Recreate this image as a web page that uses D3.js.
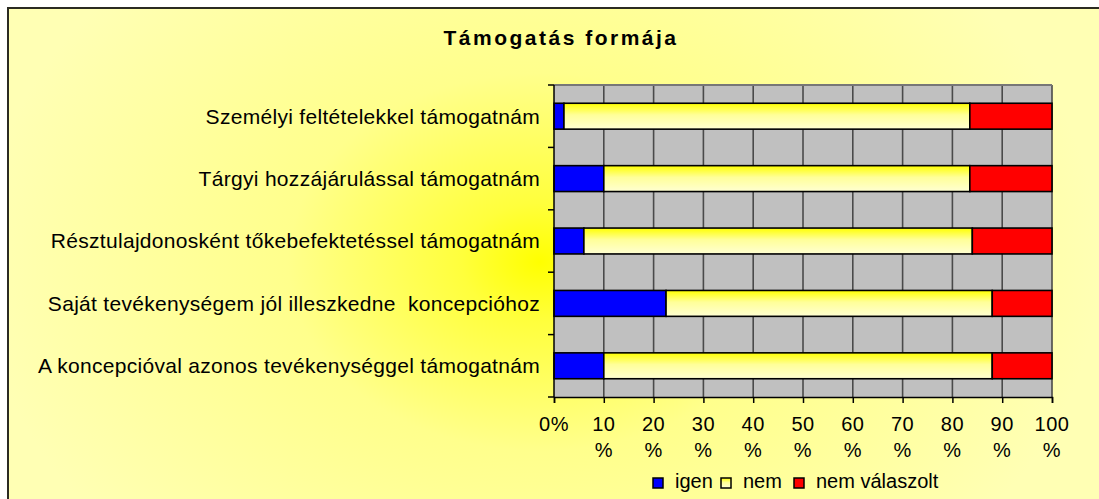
<!DOCTYPE html>
<html>
<head>
<meta charset="utf-8">
<script src="https://cdn.jsdelivr.net/npm/d3@7"></script>
<style>
  body { margin: 0; background: #ffffff; }
  text { font-family: "Liberation Sans", Arial, sans-serif; fill: #000; }
</style>
</head>
<body>
<div id="chart"></div>
<script>

// Chart data
var categories = [
    "Személyi feltételekkel támogatnám",
    "Tárgyi hozzájárulással támogatnám",
    "Résztulajdonosként tőkebefektetéssel támogatnám",
    "Saját tevékenységem jól illeszkedne  koncepcióhoz",
    "A koncepcióval azonos tevékenységgel támogatnám"
];
var seriesNames = ["igen", "nem", "nem válaszolt"];
var igen = [2, 10, 6, 22.5, 10];
var nem = [81.5, 73.5, 78, 65.5, 78];
var nemValaszolt = [16.5, 16.5, 16, 12, 12];
var tickValues = [0, 10, 20, 30, 40, 50, 60, 70, 80, 90, 100];

// Set up chart
var svgWidth = 1099;
var svgHeight = 499;

var margin = {
    top: 85,
    right: 47,
    bottom: 102,
    left: 554
};

var width = svgWidth - margin.left - margin.right;
var height = svgHeight - margin.top - margin.bottom;

var svg = d3.select("#chart")
    .append("svg")
    .attr("width", svgWidth)
    .attr("height", svgHeight);

var defs = svg.append("defs");

// background glow
var bgGrad = defs.append("radialGradient")
    .attr("id", "bgGrad")
    .attr("gradientUnits", "userSpaceOnUse")
    .attr("cx", 540).attr("cy", 262).attr("r", 560)
    .attr("gradientTransform", "translate(540,262) scale(1,0.75) translate(-540,-262)");
bgGrad.append("stop").attr("offset", "0").attr("stop-color", "#ffff00");
bgGrad.append("stop").attr("offset", "0.14").attr("stop-color", "#ffff3c");
bgGrad.append("stop").attr("offset", "0.45").attr("stop-color", "#ffff8c");
bgGrad.append("stop").attr("offset", "1").attr("stop-color", "#ffffb4");

// bar fill for "nem"
var barGrad = defs.append("linearGradient")
    .attr("id", "barGrad")
    .attr("x1", 0).attr("y1", 0).attr("x2", 0).attr("y2", 1);
barGrad.append("stop").attr("offset", "0").attr("stop-color", "#ffff00");
barGrad.append("stop").attr("offset", "0.45").attr("stop-color", "#ffff99");
barGrad.append("stop").attr("offset", "1").attr("stop-color", "#ffffd2");

var colors = ["#0000ff", "url(#barGrad)", "#ff0000"];

// chart area with border
svg.append("rect")
    .attr("x", 8)
    .attr("y", 8)
    .attr("width", 1120)
    .attr("height", 520)
    .attr("fill", "url(#bgGrad)")
    .attr("stroke", "#2b2b22")
    .attr("stroke-width", 2);

// Title
svg.append("text")
    .attr("x", 561)
    .attr("y", 45)
    .attr("text-anchor", "middle")
    .attr("font-size", "21px")
    .attr("font-weight", "bold")
    .attr("letter-spacing", "2.5px")
    .text("Támogatás formája");

var chartGroup = svg.append("g")
    .attr("transform", `translate(${margin.left}, ${margin.top})`);

// Build table for stacking
var table = categories.map(function(c, i) {
    return { cat: c, "igen": igen[i], "nem": nem[i], "nem válaszolt": nemValaszolt[i] };
});
var stacked = d3.stack().keys(seriesNames)(table);

// Scales
var xScale = d3.scaleLinear()
    .domain([0, 100])
    .range([0, width]);

var yScale = d3.scaleBand()
    .domain(categories)
    .range([0, height])
    .paddingInner(0.585)
    .paddingOuter(0.2925);

var yBounds = d3.scaleLinear()
    .domain([0, categories.length])
    .range([0, height]);

// plot background
chartGroup.append("rect")
    .attr("width", width)
    .attr("height", height)
    .attr("fill", "#c0c0c0");

// vertical gridlines
chartGroup.selectAll(".grid")
    .data(tickValues.slice(1))
    .enter()
    .append("line")
    .attr("x1", d => xScale(d))
    .attr("x2", d => xScale(d))
    .attr("y1", 0)
    .attr("y2", height)
    .attr("stroke", "#4a4a4a")
    .attr("stroke-width", 1.6);

// top border
chartGroup.append("line")
    .attr("x1", 0).attr("x2", width)
    .attr("y1", 0).attr("y2", 0)
    .attr("stroke", "#777777")
    .attr("stroke-width", 2);

// bars
chartGroup.selectAll(".series")
    .data(stacked)
    .enter()
    .append("g")
    .attr("fill", (d, i) => colors[i])
    .selectAll("rect")
    .data(d => d)
    .enter()
    .append("rect")
    .attr("x", d => xScale(d[0]))
    .attr("y", d => yScale(d.data.cat))
    .attr("width", d => xScale(d[1]) - xScale(d[0]))
    .attr("height", yScale.bandwidth())
    .attr("stroke", "#000")
    .attr("stroke-width", 1.6);

// left axis
chartGroup.append("line")
    .attr("x1", 0).attr("x2", 0)
    .attr("y1", 0).attr("y2", height)
    .attr("stroke", "#000")
    .attr("stroke-width", 1.5);

chartGroup.selectAll(".ytick")
    .data(d3.range(categories.length + 1))
    .enter()
    .append("line")
    .attr("x1", -6).attr("x2", 0)
    .attr("y1", d => yBounds(d))
    .attr("y2", d => yBounds(d))
    .attr("stroke", "#000")
    .attr("stroke-width", 1.5);

chartGroup.selectAll(".ylabel")
    .data(categories)
    .enter()
    .append("text")
    .attr("x", -14)
    .attr("y", d => yScale(d) + yScale.bandwidth() / 2)
    .attr("dy", "0.35em")
    .attr("text-anchor", "end")
    .attr("font-size", "21px")
    .attr("letter-spacing", "0.3px")
    .style("white-space", "pre")
    .text(d => d);

// bottom axis
var bottomAxis = d3.axisBottom(xScale)
    .tickValues(tickValues)
    .tickSize(6)
    .tickFormat("");

var xAxisGroup = chartGroup.append("g")
    .attr("transform", `translate(0, ${height})`)
    .call(bottomAxis);
xAxisGroup.select(".domain").attr("stroke", "#000").attr("stroke-width", 1.5);
xAxisGroup.selectAll(".tick line").attr("stroke", "#000").attr("stroke-width", 1.5);

// tick labels wrap onto two lines
var tickLabels = chartGroup.selectAll(".xlabel")
    .data(tickValues)
    .enter()
    .append("text")
    .attr("x", d => xScale(d))
    .attr("y", height + 34)
    .attr("text-anchor", "middle")
    .attr("font-size", "20px")
    .attr("letter-spacing", "0.5px");
tickLabels.each(function(d) {
    var t = d3.select(this);
    if (d === 0) {
        t.text("0%");
    } else {
        t.append("tspan").attr("x", xScale(d)).text(d);
        t.append("tspan").attr("x", xScale(d)).attr("dy", 26).text("%");
    }
});

// legend
var legendItems = [
    { name: seriesNames[0], color: colors[0], x: 653 },
    { name: seriesNames[1], color: colors[1], x: 721 },
    { name: seriesNames[2], color: colors[2], x: 794 }
];
var legend = svg.selectAll(".legend")
    .data(legendItems)
    .enter()
    .append("g")
    .attr("transform", d => `translate(${d.x}, 478)`);
legend.append("rect")
    .attr("width", 10)
    .attr("height", 10)
    .attr("fill", d => d.color)
    .attr("stroke", "#000")
    .attr("stroke-width", 1.5);
legend.append("text")
    .attr("x", 22)
    .attr("y", 10)
    .attr("font-size", "20px")
    .text(d => d.name);

</script>
</body>
</html>
